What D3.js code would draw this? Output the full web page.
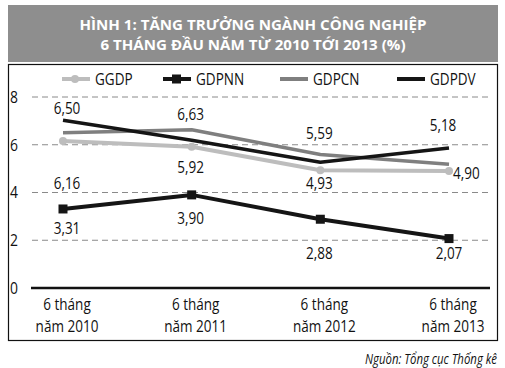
<!DOCTYPE html>
<html><head><meta charset="utf-8">
<script src="https://cdn.jsdelivr.net/npm/d3@7"></script>
<style>
html,body{margin:0;padding:0;background:#fff;}
svg{display:block;}
text{font-family:"Open Sans","Noto Sans",sans-serif;}
</style></head>
<body>
<script>
const categories = ["6 tháng năm 2010", "6 tháng năm 2011", "6 tháng năm 2012", "6 tháng năm 2013"];
const seriesNames = ["GGDP", "GDPNN", "GDPCN", "GDPDV"];
const ggdp  = [6.16, 5.92, 4.93, 4.90];
const gdpnn = [3.31, 3.90, 2.88, 2.07];
const gdpcn = [6.50, 6.63, 5.59, 5.18];
const gdpdv = [7.03, 6.19, 5.27, 5.86];
const yTicks = [0, 2, 4, 6, 8];
const titleLines = ["HÌNH 1: TĂNG TRƯỞNG NGÀNH CÔNG NGHIỆP", "6 THÁNG ĐẦU NĂM TỪ 2010 TỚI 2013 (%)"];
const sourceText = "Nguồn: Tổng cục Thống kê";

const W = 505, H = 368;
const SX = 0.82; // condensed look
const FS = 16.5;
const svg = d3.select("body").append("svg").attr("width", W).attr("height", H);

function ctext(parent, px, py, str, opts = {}) {
  const t = parent.append("text")
    .attr("transform", `translate(${px},${py}) scale(${opts.sx || SX},1)`)
    .attr("text-anchor", opts.anchor || "middle")
    .attr("dy", opts.dy || "0.35em")
    .attr("font-size", opts.size || FS)
    .attr("fill", opts.fill || "#111")
    .text(str);
  if (opts.italic) t.attr("font-style", "italic");
  return t;
}

// title banner
svg.append("rect").attr("x", 8).attr("y", 5).attr("width", 490).attr("height", 57).attr("fill", "#8e8e8e");
const titleWidths = [347, 305];
svg.selectAll("text.title").data(titleLines).enter().append("text")
  .attr("class", "title")
  .attr("x", 253).attr("y", (d, i) => 29.5 + i * 20)
  .attr("text-anchor", "middle")
  .attr("fill", "#fff")
  .attr("textLength", (d, i) => titleWidths[i])
  .attr("lengthAdjust", "spacingAndGlyphs")
  .style("font-weight", "700")
  .style("font-size", "15px")
  .text(d => d);

// frame
svg.append("rect").attr("x", 8.5).attr("y", 64.5).attr("width", 489).attr("height", 276)
  .attr("fill", "none").attr("stroke", "#111").attr("stroke-width", 1.2);

const x = d3.scalePoint().domain(categories).range([63, 449]);
const y = d3.scaleLinear().domain([0, 8]).range([288, 97]);

// gridlines
svg.append("g").selectAll("line").data(yTicks.filter(t => t > 0)).enter().append("line")
  .attr("x1", 32).attr("x2", 492)
  .attr("y1", d => y(d)).attr("y2", d => y(d))
  .attr("stroke", "#8a8a8a").attr("stroke-width", 1).attr("stroke-dasharray", "6,4");

// y axis labels
const ya = svg.append("g");
yTicks.forEach(t => ctext(ya, 14, y(t), d3.format("d")(t), {size: 17}));

// zero axis
svg.append("line").attr("x1", 31).attr("x2", 490).attr("y1", y(0)).attr("y2", y(0))
  .attr("stroke", "#111").attr("stroke-width", 2.5);

// x category labels
const xl = svg.append("g");
categories.forEach(c => {
  const parts = c.split(" năm ");
  ctext(xl, x(c) + 4, 310, parts[0], {dy: "0"});
  ctext(xl, x(c) + 4, 332, "năm " + parts[1], {dy: "0"});
});

const series = [
  {name: "GGDP",  values: ggdp,  color: "#bdbdbd", width: 4,   marker: "circle"},
  {name: "GDPCN", values: gdpcn, color: "#7f7f7f", width: 3.5, marker: null},
  {name: "GDPDV", values: gdpdv, color: "#151515", width: 3.5, marker: null},
  {name: "GDPNN", values: gdpnn, color: "#151515", width: 4,   marker: "square"}
];

const line = d3.line().x((d, i) => x(categories[i])).y(d => y(d));
series.forEach(s => {
  svg.append("path").datum(s.values).attr("d", line)
    .attr("fill", "none").attr("stroke", s.color).attr("stroke-width", s.width)
    .attr("stroke-linejoin", "round");
  if (s.marker === "circle") {
    svg.selectAll(null).data(s.values).enter().append("circle")
      .attr("cx", (d, i) => x(categories[i])).attr("cy", d => y(d)).attr("r", 4).attr("fill", s.color);
  } else if (s.marker === "square") {
    svg.selectAll(null).data(s.values).enter().append("rect")
      .attr("x", (d, i) => x(categories[i]) - 4.5).attr("y", d => y(d) - 4.5)
      .attr("width", 9).attr("height", 9).attr("fill", s.color);
  }
});

// data labels
const fmt = v => d3.format(".2f")(v).replace(".", ",");
const labelNudges = {
  GDPCN: [[4, -25, "middle"], [-1, -15, "middle"], [-1, -21, "middle"], [-6, -39, "middle"]],
  GGDP:  [[4, 42, "middle"], [-1, 21, "middle"], [-1, 13, "middle"], [4, 2, "start"]],
  GDPNN: [[4, 19, "middle"], [-1, 23, "middle"], [-1, 34, "middle"], [0, 15, "middle"]]
};
const lg = svg.append("g");
[["GDPCN", gdpcn], ["GGDP", ggdp], ["GDPNN", gdpnn]].forEach(([name, vals]) => {
  vals.forEach((v, i) => {
    const n = labelNudges[name][i];
    ctext(lg, x(categories[i]) + n[0], y(v) + n[1], fmt(v), {anchor: n[2]});
  });
});

// legend
const legendItems = [
  {name: "GGDP",  x: 62,  color: "#bdbdbd", width: 4, marker: "circle"},
  {name: "GDPNN", x: 163, color: "#151515", width: 4, marker: "square"},
  {name: "GDPCN", x: 280, color: "#7f7f7f", width: 4, marker: null},
  {name: "GDPDV", x: 397, color: "#151515", width: 4, marker: null}
];
const ly = 79;
const leg = svg.append("g");
legendItems.forEach(it => {
  leg.append("line").attr("x1", it.x).attr("x2", it.x + 28).attr("y1", ly).attr("y2", ly)
    .attr("stroke", it.color).attr("stroke-width", it.width);
  if (it.marker === "circle") leg.append("circle").attr("cx", it.x + 13).attr("cy", ly).attr("r", 4).attr("fill", it.color);
  if (it.marker === "square") leg.append("rect").attr("x", it.x + 9).attr("y", ly - 4.5).attr("width", 9).attr("height", 9).attr("fill", it.color);
  ctext(leg, it.x + 33, ly, it.name, {anchor: "start"});
});

// source
ctext(svg, 497, 364, sourceText, {anchor: "end", size: 15, italic: true, dy: "0", sx: 0.76});
</script>
</body></html>
